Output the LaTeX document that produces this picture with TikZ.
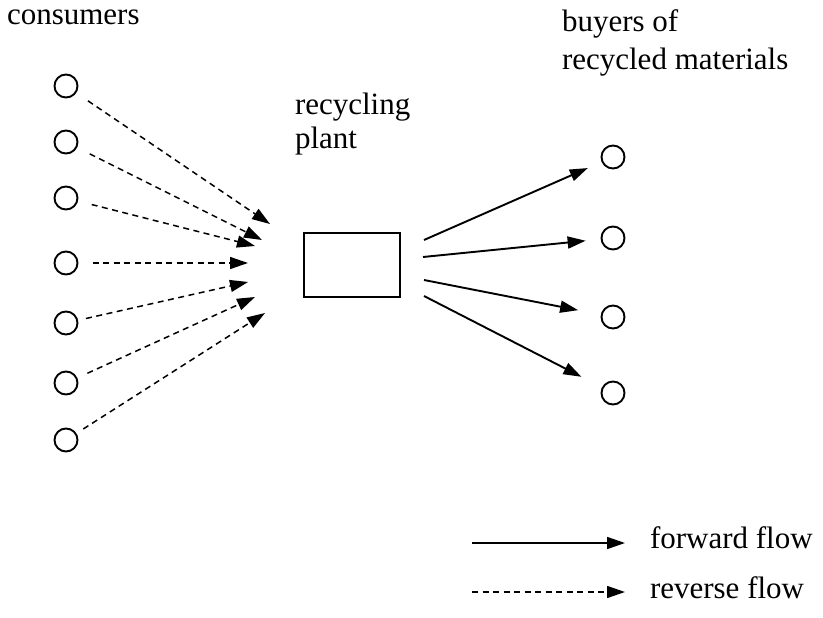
\documentclass[tikz,border=0pt]{standalone}
\usepackage{fontspec}
\setmainfont{Liberation Serif}
\usetikzlibrary{arrows.meta}
\begin{document}
\begin{tikzpicture}[x=1pt,y=-1pt,
  lbl/.style={inner sep=0pt,outer sep=0pt,anchor=base west,font=\fontsize{31}{34}\selectfont},
  party/.style={circle,draw,line width=1.9pt,minimum size=23pt,inner sep=0pt,outer sep=0pt},
  plant/.style={rectangle,draw,line width=1.6pt,minimum width=96pt,minimum height=64pt,inner sep=0pt},
  tip/.style={-{Triangle[length=18pt,width=12pt]}},
  fwd/.style={tip,line width=1.9pt},
  rev/.style={tip,line width=1.5pt,dash pattern=on 6pt off 4.5pt}]
\useasboundingbox (0,0) rectangle (823,618);

% labels
\node[lbl] (lcons) at (7,25) {consumers};
\node[lbl] (lplant) at (295,114) {\fontsize{31}{34}\selectfont\begin{tabular}[t]{@{}l@{}}recycling\\ plant\end{tabular}};
\node[lbl] (lbuy) at (562,32) {\fontsize{31}{38}\selectfont\begin{tabular}[t]{@{}l@{}}buyers of\\ recycled materials\end{tabular}};

% consumers
\node[party] (c1) at (66,86) {};
\node[party] (c2) at (66,142) {};
\node[party] (c3) at (66,198) {};
\node[party] (c4) at (66,263) {};
\node[party] (c5) at (66,323) {};
\node[party] (c6) at (66,383) {};
\node[party] (c7) at (66,440) {};

% recycling plant
\node[plant] (p) at (352,265) {};

% buyers of recycled materials
\node[party] (b1) at (613,157) {};
\node[party] (b2) at (613,238) {};
\node[party] (b3) at (613,317) {};
\node[party] (b4) at (613,393) {};

% ends of the reverse flows
\coordinate (t1) at (270,224);
\coordinate (t2) at (262,240);
\coordinate (t3) at (255,246);
\coordinate (t4) at (248,263);
\coordinate (t5) at (248,282);
\coordinate (t6) at (255,297);
\coordinate (t7) at (265,313);

\draw[rev,shorten <=15pt] (c1) -- (t1);
\draw[rev,shorten <=15pt] (c2) -- (t2);
\draw[rev,shorten <=15pt] (c3) -- (t3);
\draw[rev,shorten <=15pt] (c4) -- (t4);
\draw[rev,shorten <=9pt] (c5) -- (t5);
\draw[rev,shorten <=12pt] (c6) -- (t6);
\draw[rev,shorten <=9pt] (c7) -- (t7);

% starts of the forward flows
\coordinate (o1) at (424,240);
\coordinate (o2) at (423,257);
\coordinate (o3) at (424,280);
\coordinate (o4) at (424,296);

\draw[fwd,shorten >=16pt] (o1) -- (b1);
\draw[fwd,shorten >=16pt] (o2) -- (b2);
\draw[fwd,shorten >=24pt] (o3) -- (b3);
\draw[fwd,shorten >=24pt] (o4) -- (b4);

% legend
\coordinate (f0) at (472,543);
\coordinate (f1) at (625,543);
\coordinate (r0) at (472,592);
\coordinate (r1) at (625,592);
\draw[fwd,line width=1.6pt] (f0) -- (f1);
\draw[rev] (r0) -- (r1);
\node[lbl] (lfwd) at (650,548) {forward flow};
\node[lbl] (lrev) at (650,598) {reverse flow};
\end{tikzpicture}
\end{document}
